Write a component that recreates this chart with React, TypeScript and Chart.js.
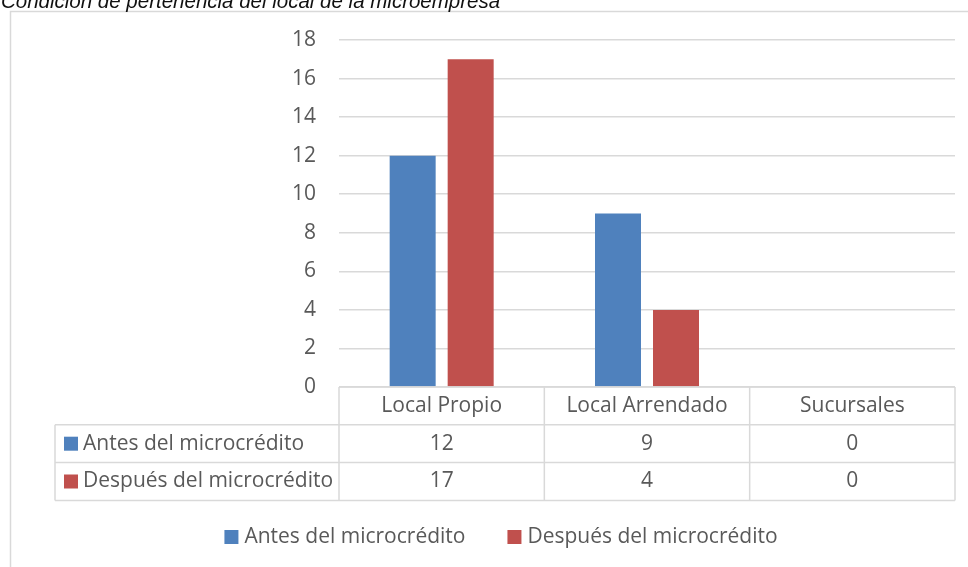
import React, { useEffect, useRef } from "react";
import { Chart, registerables } from "chart.js";

Chart.register(...registerables);

// Chart content
const TITLE = "Condición de pertenencia del local de la microempresa";
const categories = ["Local Propio", "Local Arrendado", "Sucursales"];
const seriesNames = ["Antes del microcrédito", "Después del microcrédito"];
const antes = [12, 9, 0];
const despues = [17, 4, 0];
const yTicksMax = 18;
const yTickStep = 2;

// Styling
const seriesColors = ["#4F81BD", "#C0504D"];
const FONT = "'Open Sans', 'Noto Sans', sans-serif";
const FONT_SIZE = 21;
const TEXT = "#595959";
const LINE = "#D9D9D9";

const tablePlugin = {
  id: "dataTableFrame",
  afterDraw(chart: any) {
    const { ctx, chartArea, scales } = chart;
    const x = scales.x;
    const left = chartArea.left;
    const right = chartArea.right;
    const bottom = chartArea.bottom;
    const rowH = 37.8;
    const tableLeft = 55;
    const n = categories.length;

    ctx.save();

    // outer frame of the chart object
    ctx.strokeStyle = LINE;
    ctx.lineWidth = 1.5;
    ctx.strokeRect(10.5, 11.5, 3000, 3000);

    // caption above the frame
    ctx.fillStyle = "#111111";
    ctx.font = "italic 20.5px 'Liberation Sans', Arial, sans-serif";
    ctx.textAlign = "left";
    ctx.textBaseline = "alphabetic";
    ctx.fillText(TITLE, 1, 7.5);

    // column boundaries from the category scale
    const bounds: number[] = [left];
    for (let i = 0; i < n - 1; i++) {
      bounds.push((x.getPixelForValue(i) + x.getPixelForValue(i + 1)) / 2);
    }
    bounds.push(right);

    const y0 = bottom;
    const y1 = y0 + rowH;
    const y2 = y1 + rowH;
    const y3 = y2 + rowH;

    ctx.strokeStyle = LINE;
    ctx.lineWidth = 1.5;
    ctx.beginPath();
    // horizontal rules
    ctx.moveTo(left, y0);
    ctx.lineTo(right, y0);
    ctx.moveTo(tableLeft, y1);
    ctx.lineTo(right, y1);
    ctx.moveTo(tableLeft, y2);
    ctx.lineTo(right, y2);
    ctx.moveTo(tableLeft, y3);
    ctx.lineTo(right, y3);
    // vertical rules
    bounds.forEach((bx) => {
      ctx.moveTo(bx, y0);
      ctx.lineTo(bx, y3);
    });
    ctx.moveTo(tableLeft, y1);
    ctx.lineTo(tableLeft, y3);
    ctx.stroke();

    ctx.font = `${FONT_SIZE}px ${FONT}`;
    ctx.fillStyle = TEXT;
    ctx.textBaseline = "middle";
    ctx.textAlign = "center";

    // header row: category names
    categories.forEach((c, i) => {
      ctx.fillText(c, x.getPixelForValue(i), (y0 + y1) / 2);
    });

    // data rows
    const rows = [y1, y2];
    chart.data.datasets.forEach((ds: any, r: number) => {
      const cy = (rows[r] + rows[r] + rowH) / 2;
      ctx.fillStyle = ds.backgroundColor;
      ctx.fillRect(64, cy - 7, 14, 14);
      ctx.fillStyle = TEXT;
      ctx.textAlign = "left";
      ctx.fillText(ds.label, 83, cy);
      ctx.textAlign = "center";
      ds.data.forEach((v: number, i: number) => {
        ctx.fillText(String(v), x.getPixelForValue(i), cy);
      });
    });

    // legend below the table
    const legendY = 537;
    const box = 14;
    const boxGap = 6;
    const itemGap = 42;
    const widths = chart.data.datasets.map((ds: any) => ctx.measureText(ds.label).width);
    const total = widths.reduce((a: number, w: number) => a + box + boxGap + w, 0) + itemGap * (widths.length - 1);
    let lx = 501 - total / 2;
    ctx.textAlign = "left";
    chart.data.datasets.forEach((ds: any, i: number) => {
      ctx.fillStyle = ds.backgroundColor;
      ctx.fillRect(lx, legendY - 7, box, box);
      ctx.fillStyle = TEXT;
      ctx.fillText(ds.label, lx + box + boxGap, legendY);
      lx += box + boxGap + widths[i] + itemGap;
    });

    ctx.restore();
  },
};

export default function App() {
  const canvasRef = useRef<HTMLCanvasElement | null>(null);

  useEffect(() => {
    document.body.style.margin = "0";
    const canvas = canvasRef.current;
    if (!canvas) return;
    const chart = new Chart(canvas, {
      type: "bar",
      data: {
        labels: categories,
        datasets: [
          {
            label: seriesNames[0],
            data: antes,
            backgroundColor: seriesColors[0],
            categoryPercentage: 0.565,
            barPercentage: 0.793,
          },
          {
            label: seriesNames[1],
            data: despues,
            backgroundColor: seriesColors[1],
            categoryPercentage: 0.565,
            barPercentage: 0.793,
          },
        ],
      },
      options: {
        animation: false,
        responsive: false,
        devicePixelRatio: 1,
        layout: { padding: { left: 0, top: 40, right: 13, bottom: 180 } },
        plugins: {
          legend: { display: false },
          title: { display: false },
          tooltip: { enabled: false },
        },
        scales: {
          x: { display: false },
          y: {
            min: 0,
            max: yTicksMax,
            ticks: {
              stepSize: yTickStep,
              color: TEXT,
              font: { family: FONT, size: FONT_SIZE },
              padding: 23,
            },
            grid: { color: LINE, lineWidth: 1.5, drawTicks: false },
            border: { display: false },
            afterFit: (scale: any) => {
              scale.width = 339;
            },
          },
        },
      },
      plugins: [tablePlugin],
    });
    return () => chart.destroy();
  }, []);

  return (
    <div style={{ position: "relative", width: 968, height: 567, background: "#ffffff" }}>
      <canvas ref={canvasRef} width={968} height={567} style={{ display: "block", width: 968, height: 567 }} />
    </div>
  );
}
